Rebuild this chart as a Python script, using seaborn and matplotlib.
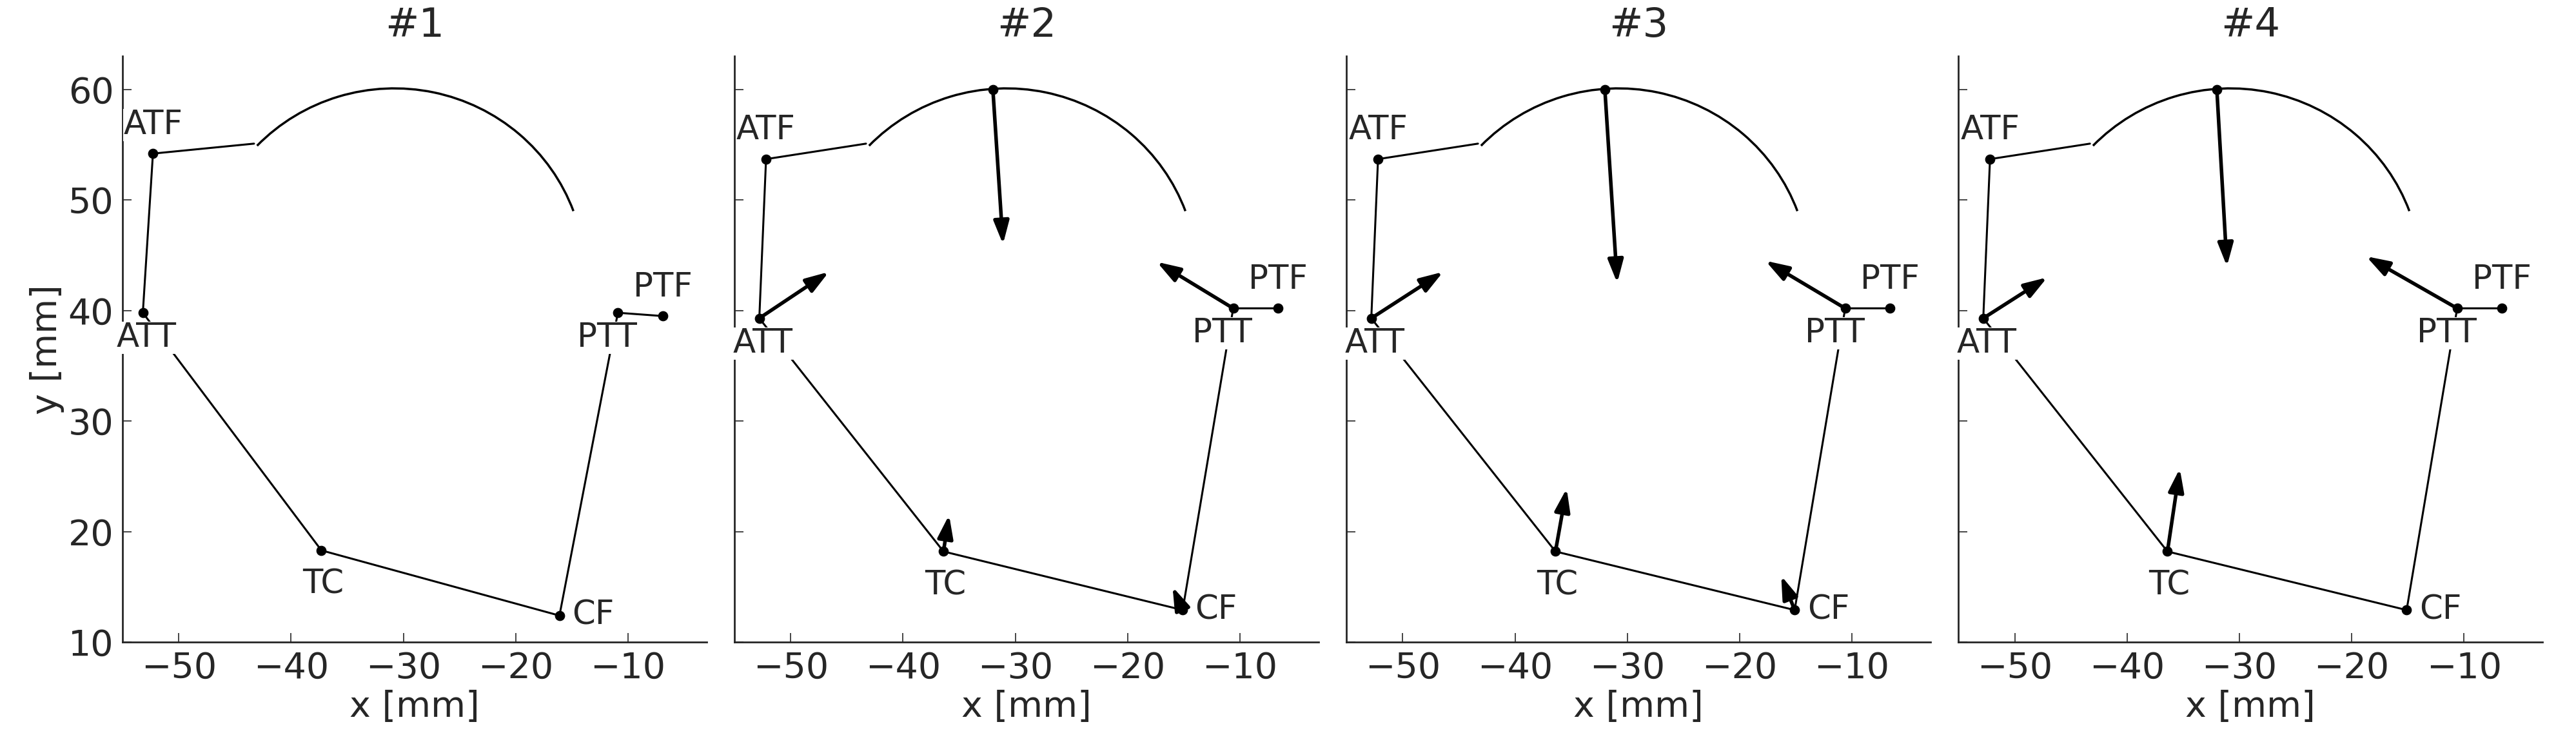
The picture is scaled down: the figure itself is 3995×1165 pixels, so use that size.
import matplotlib
matplotlib.use("Agg")
import matplotlib.pyplot as plt
from matplotlib.patches import Arc
import pandas as pd
import seaborn as sns

# joint names and positions per trial (#1 .. #4)
names = ["ATF", "ATT", "TC", "CF", "PTT", "PTF"]
titles = ["#1", "#2", "#3", "#4"]
x_pts = [
    [-52.3, -53.2, -37.3, -16.1, -10.9, -6.9],
    [-52.2, -52.8, -36.4, -15.1, -10.6, -6.6],
    [-52.2, -52.8, -36.4, -15.1, -10.6, -6.6],
    [-52.2, -52.8, -36.4, -15.1, -10.6, -6.6],
]
y_pts = [
    [54.2, 39.8, 18.3, 12.4, 39.8, 39.5],
    [53.7, 39.3, 18.2, 12.9, 40.2, 40.2],
    [53.7, 39.3, 18.2, 12.9, 40.2, 40.2],
    [53.7, 39.3, 18.2, 12.9, 40.2, 40.2],
]
# segment ATF -> start of the talus dome
dome_start = (-43.3, 55.1)
dome_center = (-30.8, 43.1)
dome_radius = 17.0
dome_angles = (20.3, 136.0)
dome_top = (-32.0, 60.0)  # contact point on the dome (trials 2-4)

# force arrows: (start label, end x, end y) per trial
arrow_from = ["DOME", "ATT", "PTT", "TC", "CF"]
arrow_end_x = [
    None,
    [-31.1, -46.6, -17.4, -35.9, -16.0],
    [-30.9, -46.4, -17.7, -35.4, -16.3],
    [-31.1, -47.1, -18.7, -35.3, None],
]
arrow_end_y = [
    None,
    [46.0, 43.5, 44.4, 21.5, 15.0],
    [42.5, 43.5, 44.5, 23.9, 16.0],
    [44.0, 43.0, 44.9, 25.7, None],
]

# label placement: offset in points, alignment
label_style = {
    "ATF": ((0, 14), "center", "bottom"),
    "ATT": ((4, -10), "center", "top"),
    "TC": ((2, -20), "center", "top"),
    "CF": ((14, 0), "left", "center"),
    "PTT": ((-12, -10), "center", "top"),
    "PTF": ((0, 14), "center", "bottom"),
}

sns.set_style("ticks")
plt.rcParams["font.family"] = ["DejaVu Sans"]
plt.rcParams["font.size"] = 36

fig, axes = plt.subplots(1, 4, figsize=(39.95, 11.65), dpi=100)
fig.subplots_adjust(left=0.0476, right=0.987, bottom=0.145, top=0.925, wspace=0.048)

for i, ax in enumerate(axes):
    pos = dict(zip(names, zip(x_pts[i], y_pts[i])))
    pos["DOME"] = dome_top
    chain = pd.DataFrame({
        "x": [dome_start[0], pos["ATF"][0], pos["ATT"][0], pos["TC"][0], pos["CF"][0], pos["PTT"][0], pos["PTF"][0]],
        "y": [dome_start[1], pos["ATF"][1], pos["ATT"][1], pos["TC"][1], pos["CF"][1], pos["PTT"][1], pos["PTF"][1]],
    })
    sns.lineplot(data=chain, x="x", y="y", sort=False, estimator=None, color="black", lw=2.2, ax=ax)
    ax.add_patch(Arc(dome_center, 2 * dome_radius, 2 * dome_radius,
                     theta1=dome_angles[0], theta2=dome_angles[1], color="black", lw=2.5))
    pts = pd.DataFrame({"x": x_pts[i], "y": y_pts[i]})
    if i > 0:
        pts = pd.concat([pts, pd.DataFrame({"x": [dome_top[0]], "y": [dome_top[1]]})])
    sns.scatterplot(data=pts, x="x", y="y", color="black", s=110, edgecolor="black", zorder=5, ax=ax)

    if arrow_end_x[i] is not None:
        for src, ex, ey in zip(arrow_from, arrow_end_x[i], arrow_end_y[i]):
            if ex is None:
                continue
            ax.annotate("", xy=(ex, ey), xytext=pos[src],
                        arrowprops=dict(arrowstyle="-|>,head_length=0.9,head_width=0.3",
                                        mutation_scale=24, color="black", lw=4,
                                        shrinkA=0, shrinkB=0), zorder=6)

    for n, (px, py) in zip(names, zip(x_pts[i], y_pts[i])):
        off, ha, va = label_style[n]
        ax.annotate(n, (px, py), xytext=off, textcoords="offset points", ha=ha, va=va,
                    fontsize=37, zorder=4,
                    bbox=dict(facecolor="white", edgecolor="none", pad=0))

    ax.set_xlim(-55, -3)
    ax.set_ylim(10, 63)
    ax.set_xticks([-50, -40, -30, -20, -10])
    ax.set_yticks([10, 20, 30, 40, 50, 60])
    ax.tick_params(direction="in", length=10, width=1.2, labelsize=40, pad=10)
    ax.set_title(titles[i], fontsize=45, pad=22)
    ax.set_xlabel("x [mm]", fontsize=40)
    if i == 0:
        ax.set_ylabel("y [mm]", fontsize=40)
    else:
        ax.set_ylabel("")
        ax.set_yticklabels([])
    sns.despine(ax=ax)
    for s in ["left", "bottom"]:
        ax.spines[s].set_linewidth(2)

fig.savefig("out.png", dpi=100)
